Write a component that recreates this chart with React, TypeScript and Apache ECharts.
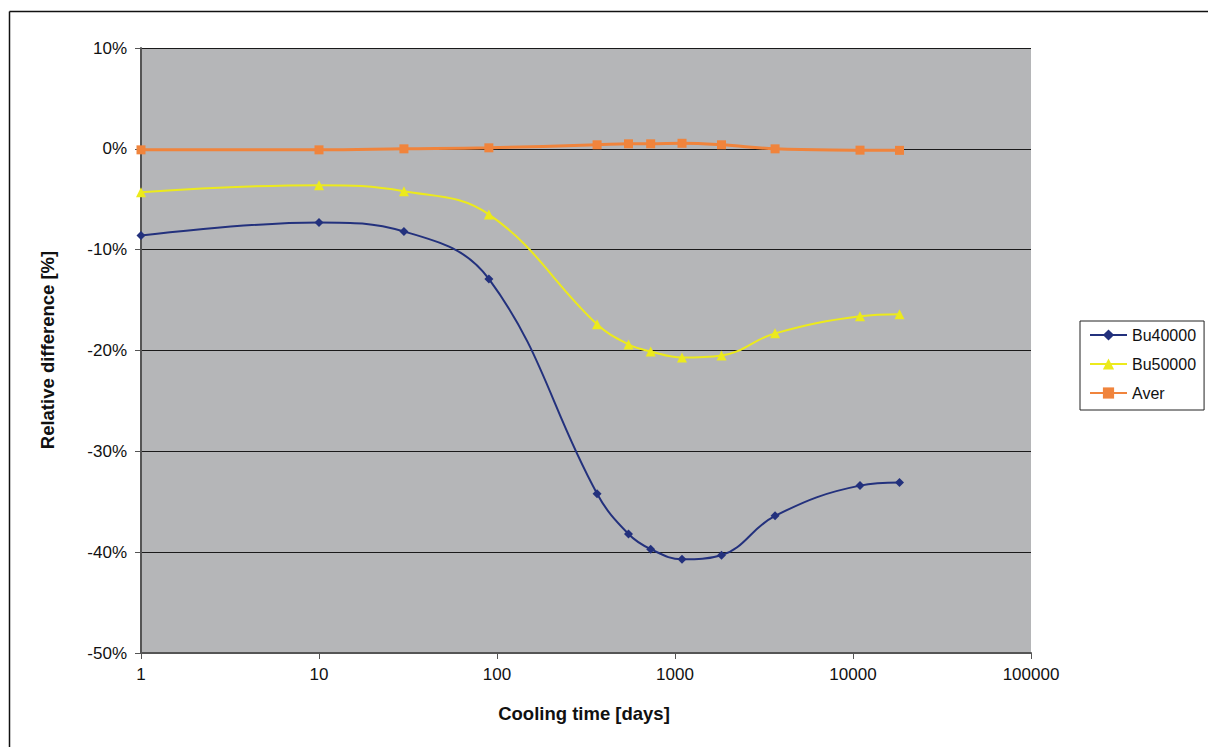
import React, { useEffect, useRef } from "react";
import * as echarts from "echarts";

const coolingDays = [1, 10, 30, 90, 365, 548, 730, 1095, 1825, 3650, 10950, 18250];
const bu40000 = [-8.6, -7.3, -8.2, -12.9, -34.2, -38.2, -39.7, -40.7, -40.3, -36.4, -33.4, -33.1];
const bu50000 = [-4.3, -3.6, -4.2, -6.5, -17.4, -19.4, -20.1, -20.7, -20.5, -18.3, -16.6, -16.4];
const aver = [-0.1, -0.1, 0.0, 0.1, 0.4, 0.5, 0.5, 0.55, 0.4, 0.0, -0.13, -0.15];

const seriesNames = ["Bu40000", "Bu50000", "Aver"];
const xTitle = "Cooling time [days]";
const yTitle = "Relative difference [%]";

const pair = (ys: number[]) => coolingDays.map((d, i) => [d, ys[i]]);

export default function App() {
  const ref = useRef<HTMLDivElement>(null);
  useEffect(() => {
    const chart = echarts.init(ref.current!, null, { renderer: "svg" });
    const font = "'Liberation Sans', Arial, sans-serif";
    chart.setOption({
      animation: false,
      backgroundColor: "#ffffff",
      textStyle: { fontFamily: font },
      grid: {
        left: 141,
        top: 48,
        width: 890,
        height: 605,
        show: true,
        backgroundColor: "#b5b6b8",
        borderWidth: 0,
      },
      legend: {
        orient: "vertical",
        left: 1080,
        top: 321,
        padding: [6, 8, 9, 9],
        itemGap: 13,
        itemWidth: 37,
        itemHeight: 14,
        borderColor: "#222",
        borderWidth: 1,
        backgroundColor: "#fff",
        textStyle: { fontSize: 16, color: "#111", fontFamily: font },
        data: seriesNames,
      },
      xAxis: {
        type: "log",
        logBase: 10,
        min: 1,
        max: 100000,
        axisLine: { show: true, onZero: false, lineStyle: { color: "#555", width: 2 } },
        axisTick: { show: true, length: 6, lineStyle: { color: "#555" } },
        axisLabel: {
          fontSize: 17,
          color: "#111",
          margin: 13,
          formatter: (v: number) => String(Math.round(v)),
        },
        splitLine: { show: false },
        minorTick: { show: false },
      },
      yAxis: {
        type: "value",
        min: -50,
        max: 10,
        interval: 10,
        axisLine: { show: true, lineStyle: { color: "#555", width: 2 } },
        axisTick: { show: true, length: 6, lineStyle: { color: "#555" } },
        axisLabel: {
          fontSize: 17,
          color: "#111",
          margin: 14,
          formatter: (v: number) => `${v}%`,
        },
        splitLine: { show: true, lineStyle: { color: "#1a1a1a", width: 1 } },
      },
      series: [
        {
          name: seriesNames[0],
          type: "line",
          data: pair(bu40000),
          smooth: 0.4,
          symbol: "diamond",
          symbolSize: 9,
          color: "#23317d",
          lineStyle: { width: 2, color: "#23317d" },
          itemStyle: { color: "#23317d" },
          z: 3,
        },
        {
          name: seriesNames[1],
          type: "line",
          data: pair(bu50000),
          smooth: 0.4,
          symbol: "triangle",
          symbolSize: 10,
          color: "#ecea1c",
          lineStyle: { width: 2, color: "#ecea1c" },
          itemStyle: { color: "#ecea1c" },
          z: 3,
        },
        {
          name: seriesNames[2],
          type: "line",
          data: pair(aver),
          smooth: 0.4,
          symbol: "rect",
          symbolSize: 9,
          color: "#f0843c",
          lineStyle: { width: 3, color: "#f0843c" },
          itemStyle: { color: "#f0843c" },
          z: 4,
        },
      ],
      graphic: [
        {
          type: "line",
          shape: { x1: 9.5, y1: 11.5, x2: 1208, y2: 11.5 },
          style: { stroke: "#111", lineWidth: 1.5 },
        },
        {
          type: "line",
          shape: { x1: 9.5, y1: 11.5, x2: 9.5, y2: 747 },
          style: { stroke: "#111", lineWidth: 1.5 },
        },
        {
          type: "text",
          x: 584,
          y: 713,
          style: {
            text: xTitle,
            font: `bold 18.5px ${font}`,
            fill: "#111",
            align: "center",
            verticalAlign: "middle",
          },
        },
        {
          type: "text",
          x: 47,
          y: 350,
          rotation: Math.PI / 2,
          style: {
            text: yTitle,
            font: `bold 18.5px ${font}`,
            fill: "#111",
            align: "center",
            verticalAlign: "middle",
          },
        },
      ],
    });
    return () => chart.dispose();
  }, []);
  return (
    <div
      ref={ref}
      style={{ position: "absolute", left: 0, top: 0, width: 1208, height: 747 }}
    />
  );
}
